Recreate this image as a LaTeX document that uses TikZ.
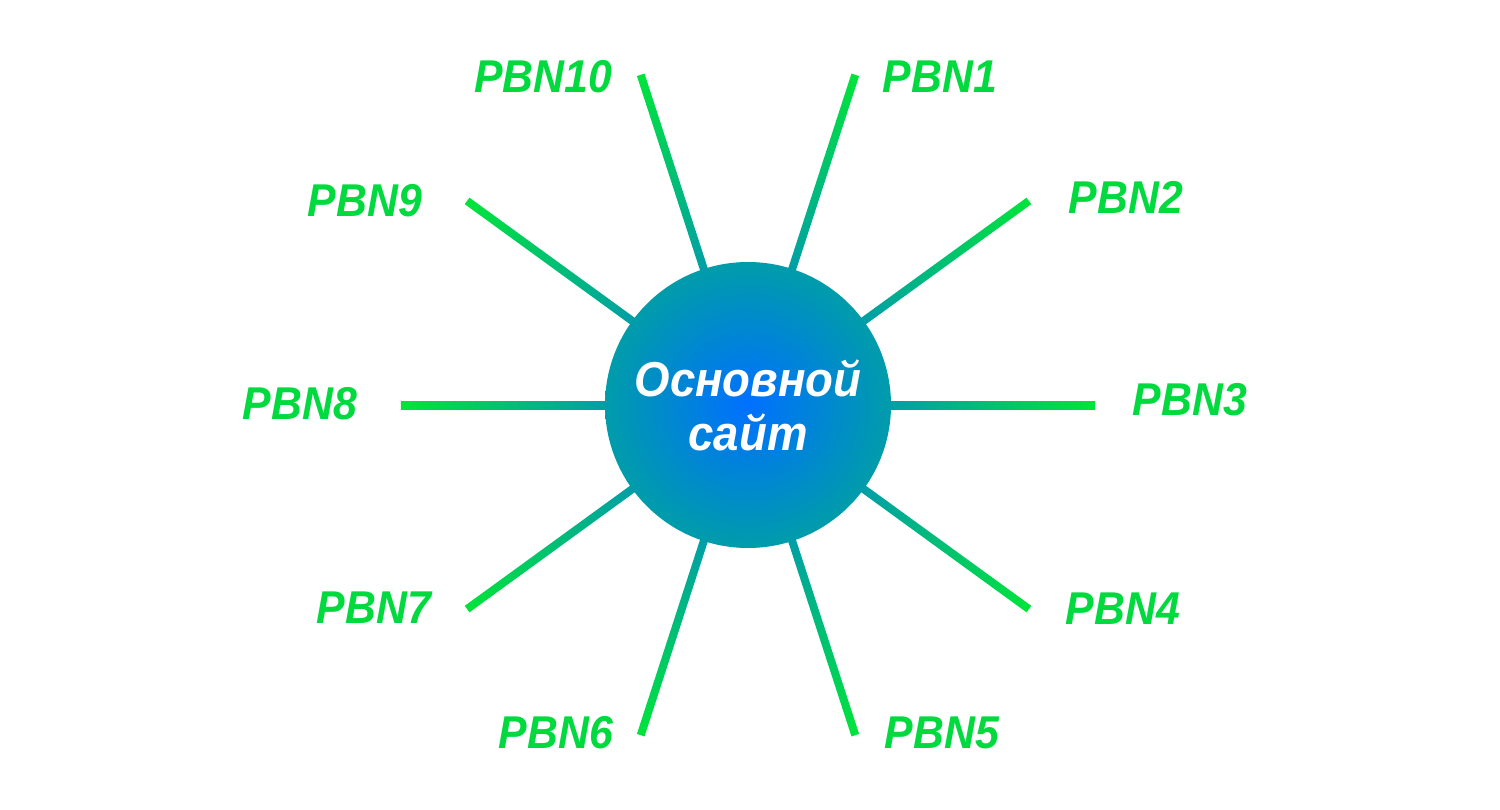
\documentclass[tikz,border=0pt]{standalone}
\usepackage{fontspec}
\setmainfont{Liberation Sans}[FakeStretch=0.93]
\usetikzlibrary{calc,backgrounds}
\definecolor{lblgreen}{RGB}{0,218,62}
\definecolor{spokeout}{RGB}{0,228,58}
\definecolor{spokein}{RGB}{0,158,168}
\definecolor{hubin}{RGB}{0,112,255}
\definecolor{hubout}{RGB}{0,156,170}
\begin{document}
\begin{tikzpicture}[x=1pt,y=-1pt,
  hub/.style={circle, minimum size=286pt, inner sep=0pt, inner color=hubin, outer color=hubout,
    text=white, font=\fontsize{49}{54}\selectfont\bfseries\itshape, align=center},
  lbl/.style={text=lblgreen, font=\fontsize{46}{50}\selectfont\bfseries\itshape, inner sep=0pt},
  spoke/.style={left color=spokein, right color=spokeout}]
\useasboundingbox (0,0) rectangle (1500,810);
\node[hub] (c) at (748,405) {Основной\\сайт};
\foreach \n/\a in {1/72,2/36,3/0,4/-36,5/-72,6/-108,7/-144,8/180,9/144,10/108}
  \coordinate (e\n) at ($(c.center)+(\a:347pt)$);
\begin{scope}[on background layer]
\foreach \n/\a in {1/72,2/36,3/0,4/-36,5/-72,6/-108,7/-144,8/180,9/144,10/108}{
  \begin{scope}[transform canvas={shift={(c.\a)}, rotate=\a}]
    \shade[spoke] (-3pt,-4pt) rectangle (204pt,4pt);
  \end{scope}
}
\end{scope}
\node[lbl] (p1) at (940,77) {PBN1};
\node[lbl] (p2) at (1126,197) {PBN2};
\node[lbl] (p3) at (1190,400) {PBN3};
\node[lbl] (p4) at (1123,609) {PBN4};
\node[lbl] (p5) at (942,733) {PBN5};
\node[lbl] (p6) at (556,733) {PBN6};
\node[lbl] (p7) at (374,608) {PBN7};
\node[lbl] (p8) at (300,404) {PBN8};
\node[lbl] (p9) at (365,201) {PBN9};
\node[lbl] (p10) at (543,77) {PBN10};
\end{tikzpicture}
\end{document}
